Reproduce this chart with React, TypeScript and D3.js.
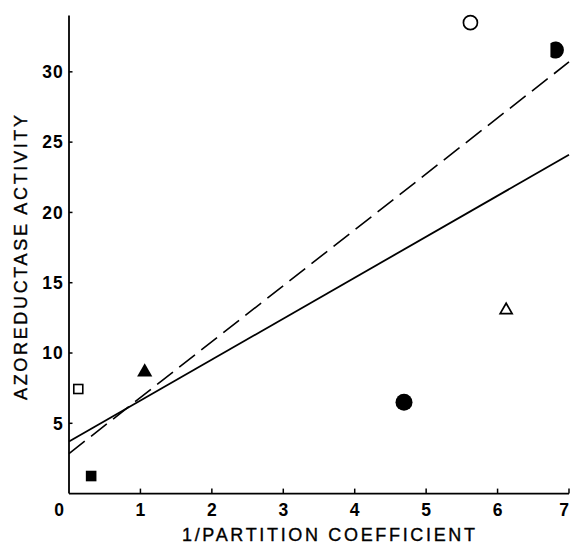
import React from 'react';
import * as d3 from 'd3';

// values
const pointX = [0.13, 0.31, 1.06, 4.69, 6.12, 5.62, 6.81];
const pointY = [7.44, 1.25, 8.65, 6.5, 13.05, 33.5, 31.55];
const pointShape = ['openSquare', 'filledSquare', 'filledTriangle', 'filledCircle', 'openTriangle', 'openCircle', 'halfCircle'];

const solidLineX = [0, 7];
const solidLineY = [3.7, 24.1];
const dashedLineX = [0, 7];
const dashedLineY = [2.85, 30.7];

const xTicks = [0, 1, 2, 3, 4, 5, 6, 7];
const yTicks = [5, 10, 15, 20, 25, 30];

const W = 570;
const H = 544;
const FONT = '"Liberation Sans", Arial, sans-serif';

const App = () => {
  const x = d3.scaleLinear().domain([0, 7]).range([69, 569]);
  const y = d3.scaleLinear().domain([0, 34]).range([493.6, 15.6]);

  const solidPath = d3.line<number>().x(d => x(solidLineX[d])).y(d => y(solidLineY[d]))([0, 1]);
  const dashedPath = d3.line<number>().x(d => x(dashedLineX[d])).y(d => y(dashedLineY[d]))([0, 1]);

  const tri = d3.symbol().type(d3.symbolTriangle);

  const marker = (shape: string, i: number) => {
    const cx = x(pointX[i]);
    const cy = y(pointY[i]);
    switch (shape) {
      case 'openSquare':
        return <rect key={i} x={cx - 4.5} y={cy - 4.5} width={9} height={9} fill="white" stroke="black" strokeWidth={1.6} />;
      case 'filledSquare':
        return <rect key={i} x={cx - 5.3} y={cy - 5.3} width={10.6} height={10.6} fill="black" />;
      case 'filledTriangle':
        return <path key={i} d={tri.size(100)() || ''} transform={`translate(${cx},${cy})`} fill="black" />;
      case 'openTriangle':
        return <path key={i} d={tri.size(62)() || ''} transform={`translate(${cx},${cy})`} fill="white" stroke="black" strokeWidth={1.7} />;
      case 'filledCircle':
        return <circle key={i} cx={cx} cy={cy} r={8.5} fill="black" />;
      case 'openCircle':
        return <circle key={i} cx={cx} cy={cy} r={7} fill="white" stroke="black" strokeWidth={1.7} />;
      case 'halfCircle': {
        const r = 8.5;
        const off = 5;
        const dy = Math.sqrt(r * r - off * off);
        return <path key={i} d={`M${cx - off},${cy - dy} A${r},${r} 0 1 1 ${cx - off},${cy + dy} Z`} fill="black" />;
      }
      default:
        return null;
    }
  };

  return (
    <div style={{ position: 'absolute', left: 0, top: 0 }}>
      <svg width={W} height={H} style={{ display: 'block', background: 'white' }}>
        <rect width={W} height={H} fill="white" />

        {/* axes */}
        <line x1={x(0)} x2={x(0)} y1={y(0)} y2={y(34)} stroke="black" strokeWidth={1.8} />
        <line x1={x(0)} x2={x(7)} y1={y(0)} y2={y(0)} stroke="black" strokeWidth={1.8} />

        {yTicks.map(t => (
          <g key={'y' + t}>
            <line x1={x(0)} x2={x(0) + 3.5} y1={y(t)} y2={y(t)} stroke="black" strokeWidth={1.5} />
            <text x={64} y={y(t)} dy="0.36em" textAnchor="end" fontFamily={FONT} fontWeight="bold" fontSize={17.5} letterSpacing={1.2}>{t}</text>
          </g>
        ))}

        {xTicks.map(t => (
          <g key={'x' + t}>
            {t > 0 && <line x1={x(t)} x2={x(t)} y1={y(0)} y2={y(0) - 5} stroke="black" strokeWidth={1.5} />}
            <text x={t === 0 ? x(t) - 10 : t === 7 ? W - 1 : x(t)} y={516} textAnchor={t === 7 ? 'end' : 'middle'} fontFamily={FONT} fontWeight="bold" fontSize={17.5}>{t}</text>
          </g>
        ))}

        {/* titles */}
        <text x={182} y={541} fontFamily={FONT} fontSize={18} stroke="black" strokeWidth={0.35} textLength={293} lengthAdjust="spacing">1/PARTITION COEFFICIENT</text>
        <text transform="translate(26.5,400) rotate(-90)" x={0} y={0} fontFamily={FONT} fontSize={18} stroke="black" strokeWidth={0.35} textLength={285} lengthAdjust="spacing">AZOREDUCTASE ACTIVITY</text>

        {/* regression lines */}
        <path d={solidPath || ''} fill="none" stroke="black" strokeWidth={1.8} />
        <path d={dashedPath || ''} fill="none" stroke="black" strokeWidth={1.6} strokeDasharray="20 8" />

        {pointShape.map((s, i) => marker(s, i))}
      </svg>
    </div>
  );
};

export default App;
